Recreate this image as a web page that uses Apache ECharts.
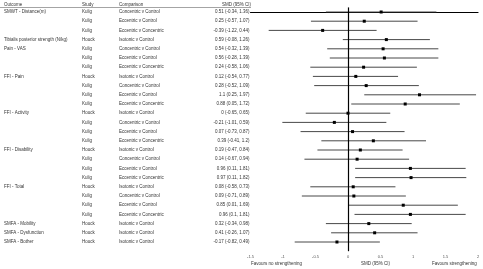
<!DOCTYPE html>
<html><head><meta charset="utf-8">
<script src="https://cdn.jsdelivr.net/npm/echarts@6/dist/echarts.min.js"></script>
<style>html,body{margin:0;padding:0;background:#fff}#c{width:483px;height:269px}</style>
</head><body><div id="c"></div>
<script>
const outcomes = ["SMWT - Distance(m)","","","Tibialis posterior strength (N/kg)","Pain - VAS","","","FFI - Pain","","","","FFI - Activity","","","","FFI - Disability","","","","FFI - Total","","","","SMFA - Mobility","SMFA - Dysfunction","SMFA - Bother"];
const studies = ["Kulig","Kulig","Kulig","Houck","Kulig","Kulig","Kulig","Houck","Kulig","Kulig","Kulig","Houck","Kulig","Kulig","Kulig","Houck","Kulig","Kulig","Kulig","Houck","Kulig","Kulig","Kulig","Houck","Houck","Houck"];
const comparisons = ["Concentric v Control","Eccentric v Control","Eccentric v Concentric","Isotonic v Control","Concentric v Control","Eccentric v Control","Eccentric v Concentric","Isotonic v Control","Concentric v Control","Eccentric v Control","Eccentric v Concentric","Isotonic v Control","Concentric v Control","Eccentric v Control","Eccentric v Concentric","Isotonic v Control","Concentric v Control","Eccentric v Control","Eccentric v Concentric","Isotonic v Control","Concentric v Control","Eccentric v Control","Eccentric v Concentric","Isotonic v Control","Isotonic v Control","Isotonic v Control"];
const smd = [0.51,0.25,-0.39,0.59,0.54,0.56,0.24,0.12,0.28,1.1,0.88,0,-0.21,0.07,0.39,0.19,0.14,0.96,0.97,0.08,0.09,0.85,0.96,0.32,0.41,-0.17];
const lower = [-0.34,-0.57,-1.22,-0.08,-0.32,-0.28,-0.58,-0.54,-0.52,0.25,0.05,-0.65,-1.01,-0.73,-0.41,-0.47,-0.67,0.11,0.11,-0.58,-0.71,0.01,0.1,-0.34,-0.26,-0.82];
const upper = [1.36,1.07,0.44,1.26,1.39,1.39,1.06,0.77,1.09,1.97,1.72,0.65,0.59,0.87,1.2,0.84,0.94,1.81,1.82,0.73,0.89,1.69,1.81,0.98,1.07,0.49];
const ciText = ["0.51 (-0.34, 1.36)","0.25 (-0.57, 1.07)","-0.39 (-1.22, 0.44)","0.59 (-0.08, 1.26)","0.54 (-0.32, 1.39)","0.56 (-0.28, 1.39)","0.24 (-0.58, 1.06)","0.12 (-0.54, 0.77)","0.28 (-0.52, 1.09)","1.1 (0.25, 1.97)","0.88 (0.05, 1.72)","0 (-0.65, 0.65)","-0.21 (-1.01, 0.59)","0.07 (-0.73, 0.87)","0.39 (-0.41, 1.2)","0.19 (-0.47, 0.84)","0.14 (-0.67, 0.94)","0.96 (0.11, 1.81)","0.97 (0.11, 1.82)","0.08 (-0.58, 0.73)","0.09 (-0.71, 0.89)","0.85 (0.01, 1.69)","0.96 (0.1, 1.81)","0.32 (-0.34, 0.98)","0.41 (-0.26, 1.07)","-0.17 (-0.82, 0.49)"];
const xTicks = [-1.5,-1,-0.5,0,0.5,1,1.5,2];

const FONT = '"Liberation Sans", Arial, sans-serif';
const FS = 4.5;
const TXT = '#333';
const data = smd.map((v,i)=>[v,i,lower[i],upper[i]]);

const chart = echarts.init(document.getElementById('c'), null, {renderer:'canvas'});
chart.setOption({
  animation:false,
  grid:{left:250.5, right:5, top:7.4, bottom:17.8},
  xAxis:{type:'value', min:-1.5, max:2, interval:0.5,
    axisLine:{show:true, lineStyle:{color:'#000', width:1.2}},
    axisTick:{show:false}, splitLine:{show:false},
    axisLabel:{fontSize:4, color:'#555', fontFamily:FONT, margin:4,
      formatter:v=>String(v)}},
  yAxis:{type:'value', inverse:true, min:-0.5, max:26, show:false, splitLine:{show:false}},
  graphic:[
    {type:'text', left:4, top:2, style:{text:'Outcome', fontSize:FS, fill:TXT, fontFamily:FONT}},
    {type:'text', left:82, top:2, style:{text:'Study', fontSize:FS, fill:TXT, fontFamily:FONT}},
    {type:'text', left:119, top:2, style:{text:'Comparison', fontSize:FS, fill:TXT, fontFamily:FONT}},
    {type:'text', right:232, top:2, style:{text:'SMD (95% CI)', fontSize:FS, fill:TXT, fontFamily:FONT}},
    {type:'line', shape:{x1:0,y1:7.5,x2:251,y2:7.5}, style:{stroke:'#666', lineWidth:0.6}},
    {type:'text', left:251, top:261, style:{text:'Favours no strengthening', fontSize:FS, fill:TXT, fontFamily:FONT}},
    {type:'text', left:361, top:261, style:{text:'SMD (95% CI)', fontSize:FS, fill:TXT, fontFamily:FONT}},
    {type:'text', left:432, top:261, style:{text:'Favours strengthening', fontSize:FS, fill:TXT, fontFamily:FONT}}
  ],
  series:[
    {type:'custom', data:data, clip:false,
      renderItem:(params, api)=>{
        const i = api.value(1);
        const p0 = api.coord([api.value(2), i]);
        const p1 = api.coord([api.value(3), i]);
        const pm = api.coord([api.value(0), i]);
        return {type:'group', children:[
          {type:'line', shape:{x1:p0[0], y1:p0[1], x2:p1[0], y2:p1[1]}, style:{stroke:'#333', lineWidth:0.9}},
          {type:'rect', shape:{x:pm[0]-1.5, y:pm[1]-1.5, width:3, height:3}, style:{fill:'#000'}}
        ]};
      },
      markLine:{silent:true, symbol:'none', label:{show:false},
        lineStyle:{color:'#000', width:1.2, type:'solid'},
        data:[{xAxis:0}]}
    },
    {type:'custom', data:data, clip:false,
      renderItem:(params, api)=>{
        const idx = params.dataIndex;
        const y = api.coord([0, api.value(1)])[1];
        const st = (t, x, align)=>({type:'text', x:x, y:y, style:{text:t, fontSize:FS, fill:TXT, fontFamily:FONT, textAlign:align||'left', textVerticalAlign:'middle'}});
        return {type:'group', children:[
          st(outcomes[idx], 4),
          st(studies[idx], 82),
          st(comparisons[idx], 119),
          st(ciText[idx], 249.5, 'right')
        ]};
      }
    }
  ]
});
</script></body></html>
